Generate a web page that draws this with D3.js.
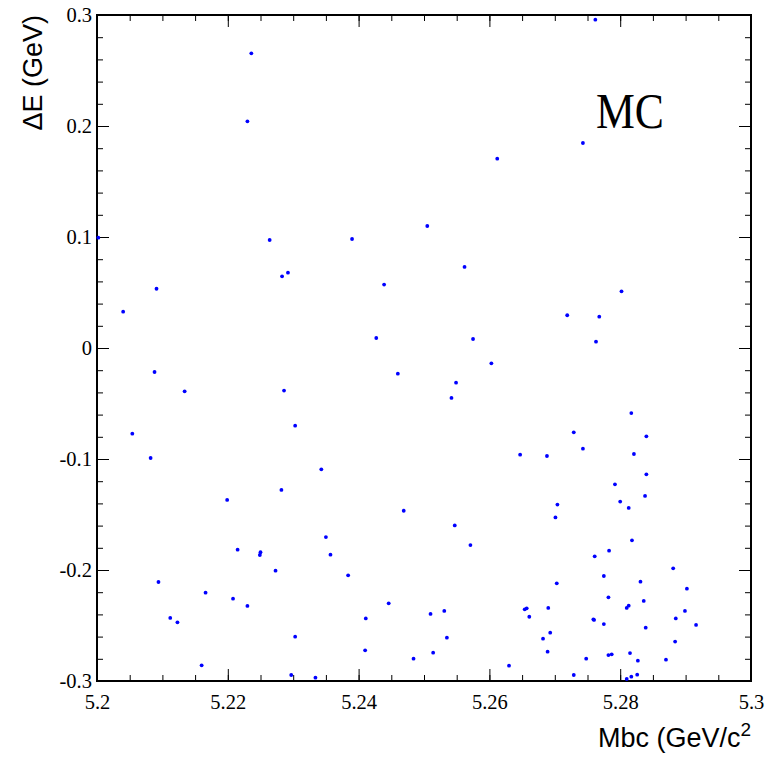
<!DOCTYPE html>
<html>
<head>
<meta charset="utf-8">
<script src="https://cdn.jsdelivr.net/npm/d3@7"></script>
<style>
    body { margin: 0; background: #fff; }
    .tick text { font-family: "Liberation Serif", "Times New Roman", serif; font-size: 20.5px; fill: #000; }
    .tick line { stroke: #000; stroke-width: 1; }
    .title { font-family: "Liberation Sans", Arial, sans-serif; font-size: 27px; fill: #000; }
</style>
</head>
<body>
<div id="chart"></div>
<script>
// Mbc (GeV/c^2) of each event
var mbc = [
    5.2002, 5.2264, 5.2283, 5.2292, 5.2091, 5.2040, 5.2088, 5.2134, 5.2286, 5.2303,
    5.2054, 5.2505, 5.2390, 5.2562, 5.2439, 5.2719, 5.2427, 5.2575, 5.2603, 5.2460,
    5.2549, 5.2542, 5.2729, 5.2817, 5.2840, 5.2743, 5.2647, 5.2688, 5.2821, 5.2840,
    5.2792, 5.2838, 5.2800, 5.2813, 5.2704, 5.2701, 5.2818, 5.2783, 5.2761, 5.2881,
    5.2775, 5.2703, 5.2831, 5.2902, 5.2782, 5.2836, 5.2654, 5.2657, 5.2690, 5.2810,
    5.2813, 5.2899, 5.2661, 5.2885, 5.2759, 5.2760, 5.2775, 5.2916, 5.2839, 5.2693,
    5.2682, 5.2884, 5.2689, 5.2748, 5.2782, 5.2787, 5.2815, 5.2827, 5.2870, 5.2630,
    5.2729, 5.2810, 5.2817, 5.2826, 5.2082, 5.2343, 5.2282, 5.2199, 5.2350, 5.2357,
    5.2215, 5.2249, 5.2250, 5.2273, 5.2094, 5.2166, 5.2208, 5.2230, 5.2112, 5.2123,
    5.2303, 5.2160, 5.2297, 5.2334, 5.2469, 5.2547, 5.2571, 5.2384, 5.2446, 5.2411,
    5.2510, 5.2531, 5.2535, 5.2410, 5.2514, 5.2484, 5.2236, 5.2230, 5.2762, 5.2743,
    5.2612, 5.2802, 5.2768, 5.2763
];
// Delta E (GeV) of each event, same order
var deltaE = [
    0.0994, 0.0973, 0.0646, 0.0679, 0.0534, 0.0327, -0.0216, -0.0390, -0.0384, -0.0700,
    -0.0772, 0.1099, 0.0982, 0.0730, 0.0571, 0.0295, 0.0090, 0.0081, -0.0138, -0.0231,
    -0.0312, -0.0450, -0.0760, -0.0586, -0.0796, -0.0907, -0.0961, -0.0973, -0.0955, -0.1138,
    -0.1228, -0.1333, -0.1384, -0.1441, -0.1411, -0.1526, -0.1733, -0.1826, -0.1877, -0.1985,
    -0.2054, -0.2120, -0.2105, -0.2168, -0.2246, -0.2279, -0.2354, -0.2345, -0.2342, -0.2342,
    -0.2321, -0.2369, -0.2421, -0.2436, -0.2444, -0.2450, -0.2487, -0.2495, -0.2520, -0.2565,
    -0.2619, -0.2645, -0.2736, -0.2799, -0.2766, -0.2760, -0.2748, -0.2817, -0.2808, -0.2862,
    -0.2946, -0.2982, -0.2961, -0.2943, -0.0991, -0.1093, -0.1279, -0.1369, -0.1703, -0.1862,
    -0.1817, -0.1865, -0.1840, -0.2006, -0.2108, -0.2204, -0.2258, -0.2324, -0.2432, -0.2471,
    -0.2601, -0.2859, -0.2946, -0.2970, -0.1466, -0.1598, -0.1775, -0.2048, -0.2300, -0.2436,
    -0.2396, -0.2369, -0.2610, -0.2724, -0.2745, -0.2799, 0.2655, 0.2042, 0.2958, 0.1847,
    0.1706, 0.0511, 0.0282, 0.0057
];

// tick values and labels
var xMajor = [5.2, 5.22, 5.24, 5.26, 5.28, 5.3];
var xLabels = ['5.2', '5.22', '5.24', '5.26', '5.28', '5.3'];
var xMinor = d3.range(0, 21).map((i) => 5.2 + i * 0.005);
var yMajor = [-0.3, -0.2, -0.1, 0, 0.1, 0.2, 0.3];
var yLabels = ['-0.3', '-0.2', '-0.1', '0', '0.1', '0.2', '0.3'];
var yMinor = d3.range(0, 31).map((i) => -0.3 + i * 0.02);

var margin = {top: 15, bottom: 76, left: 97, right: 14};
var width = 765 - margin.left - margin.right;
var height = 757 - margin.top - margin.bottom;

var svg = d3.select('#chart').append('svg')
    .attr('width', 765)
    .attr('height', 757);

var g = svg.append('g')
    .attr('transform', `translate(${margin.left},${margin.top})`);

// Scales setup
var xScale = d3.scaleLinear().domain([5.2, 5.3]).range([0, width]);
var yScale = d3.scaleLinear().domain([-0.3, 0.3]).range([height, 0]);

function fmt(labels, values) {
    return (d) => labels[values.findIndex((v) => Math.abs(v - d) < 1e-9)];
}

// bottom axis, ticks pointing inwards
g.append('g').attr('transform', `translate(0,${height})`)
    .call(d3.axisBottom(xScale).tickValues(xMinor).tickFormat('').tickSize(-6));
g.append('g').attr('transform', `translate(0,${height})`)
    .call(d3.axisBottom(xScale).tickValues(xMajor).tickFormat(fmt(xLabels, xMajor)).tickSize(-12).tickPadding(13));
// top axis
g.append('g')
    .call(d3.axisTop(xScale).tickValues(xMinor).tickFormat('').tickSize(-6));
g.append('g')
    .call(d3.axisTop(xScale).tickValues(xMajor).tickFormat('').tickSize(-12));

// left axis
g.append('g')
    .call(d3.axisLeft(yScale).tickValues(yMinor).tickFormat('').tickSize(-6));
g.append('g')
    .call(d3.axisLeft(yScale).tickValues(yMajor).tickFormat(fmt(yLabels, yMajor)).tickSize(-12).tickPadding(5));
// right axis
g.append('g').attr('transform', `translate(${width},0)`)
    .call(d3.axisRight(yScale).tickValues(yMinor).tickFormat('').tickSize(-6));
g.append('g').attr('transform', `translate(${width},0)`)
    .call(d3.axisRight(yScale).tickValues(yMajor).tickFormat('').tickSize(-12));

g.selectAll('.domain').remove();

// frame
g.append('rect')
    .attr('width', width)
    .attr('height', height)
    .attr('fill', 'none')
    .attr('stroke', '#000')
    .attr('stroke-width', 2);

// points, drawn over the frame
var points = mbc.map((d, i) => ({x: d, y: deltaE[i]}));
g.selectAll('circle').data(points).enter().append('circle')
    .attr('cx', (d) => xScale(d.x))
    .attr('cy', (d) => yScale(d.y))
    .attr('r', 1.9)
    .attr('fill', '#0000ff');

// axis titles
var xt = svg.append('text').attr('class', 'title')
    .attr('x', 751).attr('y', 747)
    .attr('text-anchor', 'end');
xt.append('tspan').text('Mbc (GeV/c');
xt.append('tspan').attr('dy', -11).attr('font-size', 19).text('2');

svg.append('text').attr('class', 'title')
    .attr('transform', 'translate(42,15) rotate(-90)')
    .attr('text-anchor', 'end')
    .text('ΔE (GeV)');

// MC label
svg.append('text')
    .attr('x', 596).attr('y', 128)
    .attr('font-family', '"Liberation Serif", "Times New Roman", serif')
    .attr('font-size', 50)
    .attr('textLength', 68)
    .attr('lengthAdjust', 'spacingAndGlyphs')
    .text('MC');
</script>
</body>
</html>
